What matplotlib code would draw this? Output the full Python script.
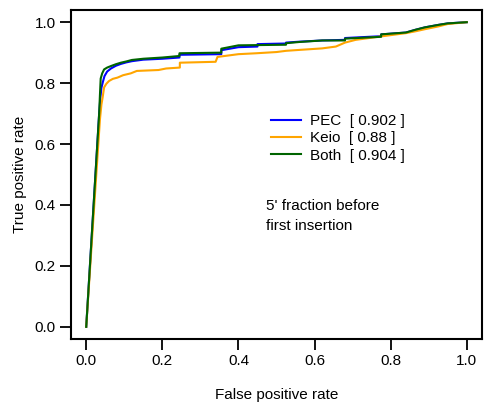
import matplotlib
matplotlib.use('Agg')
import matplotlib.pyplot as plt

plt.rcParams['font.family'] = ['Liberation Sans', 'DejaVu Sans']

# ROC points (fpr, tpr); repeated fpr values give the vertical steps
pec_fpr = [0, 0.034, 0.037, 0.040, 0.044, 0.048, 0.055, 0.065, 0.078, 0.091, 0.105, 0.12, 0.15, 0.2, 0.245, 0.245,
           0.355, 0.355, 0.40, 0.45, 0.45, 0.525, 0.525, 0.56, 0.62, 0.68, 0.68, 0.775, 0.775, 0.84, 0.865, 0.89, 0.925, 0.95, 1.0]
pec_tpr = [0, 0.70, 0.75, 0.785, 0.805, 0.823, 0.838, 0.848, 0.857, 0.863, 0.868, 0.872, 0.877, 0.88, 0.884, 0.893,
           0.895, 0.908, 0.918, 0.92, 0.928, 0.93, 0.933, 0.936, 0.94, 0.942, 0.948, 0.954, 0.96, 0.966, 0.975, 0.983, 0.991, 0.996, 1.0]

keio_fpr = [0, 0.036, 0.040, 0.043, 0.047, 0.053, 0.06, 0.07, 0.082, 0.097, 0.117, 0.133, 0.19, 0.21, 0.246, 0.246,
            0.34, 0.345, 0.40, 0.447, 0.50, 0.525, 0.56, 0.62, 0.656, 0.68, 0.708, 0.773, 0.84, 0.865, 0.89, 0.925, 0.95, 1.0]
keio_tpr = [0, 0.68, 0.73, 0.752, 0.786, 0.798, 0.807, 0.814, 0.818, 0.826, 0.832, 0.84, 0.843, 0.848, 0.851, 0.867,
            0.87, 0.886, 0.895, 0.898, 0.902, 0.906, 0.909, 0.914, 0.92, 0.933, 0.942, 0.953, 0.964, 0.97, 0.977, 0.986, 0.994, 1.0]

both_fpr = [0, 0.034, 0.036, 0.038, 0.042, 0.047, 0.055, 0.065, 0.078, 0.091, 0.105, 0.12, 0.15, 0.2, 0.245, 0.245,
            0.355, 0.355, 0.40, 0.525, 0.525, 0.56, 0.62, 0.68, 0.68, 0.775, 0.775, 0.84, 0.865, 0.89, 0.925, 0.95, 1.0]
both_tpr = [0, 0.70, 0.76, 0.815, 0.832, 0.845, 0.851, 0.856, 0.862, 0.867, 0.871, 0.876, 0.88, 0.884, 0.889, 0.898,
            0.9, 0.913, 0.924, 0.926, 0.931, 0.935, 0.94, 0.94, 0.946, 0.952, 0.96, 0.966, 0.975, 0.983, 0.991, 0.996, 1.0]

labels = ['PEC  [ 0.902 ]', 'Keio  [ 0.88 ]', 'Both  [ 0.904 ]']
colors = ['#0000FF', '#FFA500', '#006400']
ticks = [0.0, 0.2, 0.4, 0.6, 0.8, 1.0]

fig = plt.figure(figsize=(4.84, 4.03), dpi=100)
ax = fig.add_axes([71/484, 1 - 339/403, 411/484, 329/403])

curves = [(pec_fpr, pec_tpr), (keio_fpr, keio_tpr), (both_fpr, both_tpr)]
for (fx, ty), lab, col in zip(curves, labels, colors):
  ax.plot(fx, ty, color=col, lw=1.5, label=lab)

ax.set_xlim(-0.04, 1.04)
ax.set_ylim(-0.04, 1.04)
ax.set_xticks(ticks)
ax.set_yticks(ticks)
ax.set_xticklabels(['%.1f' % t for t in ticks])
ax.set_yticklabels(['%.1f' % t for t in ticks])
ax.tick_params(direction='out', length=8, width=1.3, labelsize=11, pad=3)
for s in ax.spines.values():
  s.set_linewidth(1.5)

ax.set_xlabel('False positive rate', fontsize=11)
ax.set_ylabel('True positive rate', fontsize=11)
ax.xaxis.set_label_coords(0.5, -0.148)
ax.yaxis.set_label_coords(-0.108, 0.5)

ax.legend(loc='upper left', bbox_to_anchor=(0.487, 0.684), frameon=False, fontsize=11,
          borderpad=0, borderaxespad=0, handlelength=1.96, handletextpad=0.6, labelspacing=0.22)

ax.text(0.472, 0.363, "5' fraction before\nfirst insertion", fontsize=11,
        ha='left', va='center', linespacing=1.5)

fig.savefig('out.png', dpi=100)
